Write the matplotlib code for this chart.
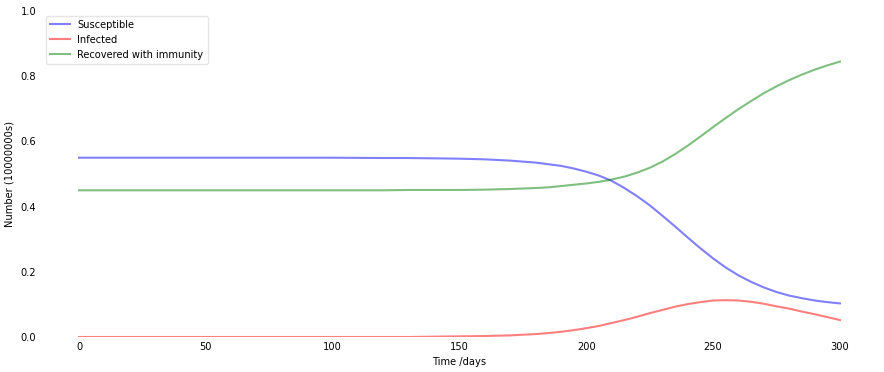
import matplotlib
matplotlib.use("Agg")
import matplotlib.pyplot as plt

days = [0, 20, 40, 60, 80, 100, 120, 130, 140, 150, 160, 170, 180, 185, 190,
        195, 200, 205, 210, 215, 220, 225, 230, 235, 240, 245, 250, 255, 260,
        265, 270, 275, 280, 285, 290, 295, 300]

susceptible = [0.550, 0.550, 0.550, 0.550, 0.550, 0.550, 0.549, 0.549, 0.548,
               0.547, 0.545, 0.541, 0.535, 0.530, 0.525, 0.517, 0.507, 0.495,
               0.479, 0.457, 0.432, 0.404, 0.372, 0.339, 0.305, 0.272, 0.241,
               0.213, 0.189, 0.169, 0.152, 0.138, 0.127, 0.119, 0.112, 0.107,
               0.103]

infected = [0.000, 0.000, 0.000, 0.000, 0.000, 0.000, 0.000, 0.000, 0.001,
            0.002, 0.003, 0.005, 0.009, 0.012, 0.016, 0.021, 0.027, 0.034,
            0.043, 0.052, 0.062, 0.073, 0.083, 0.093, 0.101, 0.107, 0.112,
            0.113, 0.112, 0.108, 0.102, 0.094, 0.087, 0.078, 0.070, 0.061,
            0.052]

recovered = [0.450, 0.450, 0.450, 0.450, 0.450, 0.450, 0.450, 0.451, 0.451,
             0.451, 0.452, 0.454, 0.457, 0.459, 0.463, 0.467, 0.471, 0.476,
             0.483, 0.492, 0.504, 0.519, 0.538, 0.561, 0.587, 0.615, 0.644,
             0.672, 0.699, 0.724, 0.748, 0.769, 0.788, 0.805, 0.820, 0.833,
             0.845]

fig = plt.figure(figsize=(8.84, 3.72), dpi=100, facecolor="w")
ax = fig.add_axes([41 / 884, 35 / 372, 837 / 884, 326 / 372])

ax.plot(days, susceptible, "b", alpha=0.5, lw=1.5, label="Susceptible")
ax.plot(days, infected, "r", alpha=0.5, lw=1.5, label="Infected")
ax.plot(days, recovered, "g", alpha=0.5, lw=1.5, label="Recovered with immunity")

ax.set_xlabel("Time /days", fontsize=7.1)
ax.set_ylabel("Number (10000000s)", fontsize=7.1)
ax.set_ylim(0, 1.0)
ax.tick_params(length=0, labelsize=7.1)
for s in ax.spines.values():
    s.set_visible(False)

legend = ax.legend(fontsize=7.1, loc="upper left")
legend.get_frame().set_alpha(0.5)

fig.savefig("out.png", dpi=100)
